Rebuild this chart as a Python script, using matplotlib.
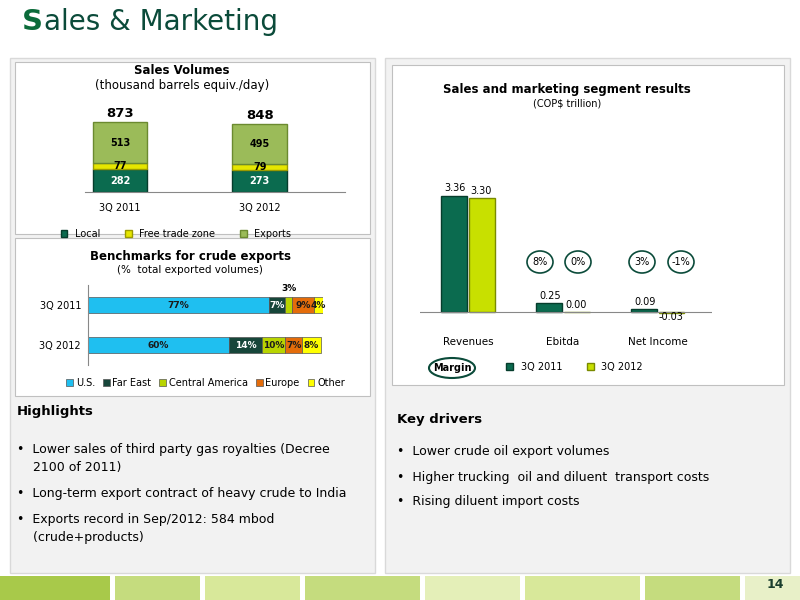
import matplotlib
matplotlib.use("Agg")
import matplotlib.pyplot as plt
from matplotlib.patches import Rectangle, Ellipse

# data
vol_periods = ["3Q 2011", "3Q 2012"]
vol_local = [282, 273]
vol_ftz = [77, 79]
vol_exports = [513, 495]
vol_totals = [873, 848]

bench_periods = ["3Q 2012", "3Q 2011"]
bench_names = ["U.S.", "Far East", "Central America", "Europe", "Other"]
bench_vals = {
    "U.S.": [60, 77],
    "Far East": [14, 7],
    "Central America": [10, 3],
    "Europe": [7, 9],
    "Other": [8, 4],
}
bench_colors = ["#1fbff0", "#17463a", "#b8d400", "#e46c0a", "#ffff00"]

seg_cats = ["Revenues", "Ebitda", "Net Income"]
seg_2011 = [3.36, 0.25, 0.09]
seg_2012 = [3.30, 0.00, -0.03]
margins_2011 = ["8%", "3%"]
margins_2012 = ["0%", "-1%"]

W, H = 800, 600
fig = plt.figure(figsize=(8, 6), dpi=100)
fig.patch.set_facecolor("white")

def fx(px): return px / W
def fy(py): return 1 - py / H

bg = fig.add_axes([0, 0, 1, 1], zorder=-5)
bg.set_xlim(0, W); bg.set_ylim(H, 0); bg.axis("off")
bg.add_patch(Rectangle((10, 58), 365, 515, fc="#f2f2f2", ec="#d9d9d9", lw=1))
bg.add_patch(Rectangle((385, 58), 405, 515, fc="#f2f2f2", ec="#d9d9d9", lw=1))
bg.add_patch(Rectangle((15, 62), 355, 172, fc="white", ec="#c0c0c0", lw=0.8))
bg.add_patch(Rectangle((15, 238), 355, 158, fc="white", ec="#c0c0c0", lw=0.8))
bg.add_patch(Rectangle((392, 65), 392, 320, fc="white", ec="#c0c0c0", lw=0.8))
# bottom stripes
stripes = [(0, 110, "#a8c94a"), (115, 200, "#c5dc7e"), (205, 300, "#d8e89a"),
           (305, 420, "#c5dc7e"), (425, 520, "#e4efb8"), (525, 640, "#d8e89a"),
           (645, 740, "#c5dc7e")]
for a, b, c in stripes:
    bg.add_patch(Rectangle((a, 576), b - a, 24, fc=c, ec="none"))
bg.add_patch(Rectangle((745, 576), 55, 24, fc="#e8f0c8", ec="none"))
bg.text(775, 584, "14", ha="center", va="center", fontsize=9, fontweight="bold", color="#1a3e2e")

s_txt = fig.text(fx(22), fy(22), "S", fontsize=21, fontweight="bold", color="#0b6b3a", va="center")
fig.canvas.draw()
ext = s_txt.get_window_extent(fig.canvas.get_renderer())
fig.text(ext.x1 / W + 0.001, fy(22), "ales & Marketing", fontsize=20, color="#0b4b3a", va="center")

# Sales volumes
ax1 = fig.add_axes([fx(85), fy(192), fx(260), 80 / H])
x = [0, 1]
w = 0.39
ax1.bar(x, vol_local, w, color="#0b6b4f", ec="#063d2c")
ax1.bar(x, vol_ftz, w, bottom=vol_local, color="#e6e600", ec="#9a9a00")
b2 = [a + b for a, b in zip(vol_local, vol_ftz)]
ax1.bar(x, vol_exports, w, bottom=b2, color="#9bbb59", ec="#6b8a30")
for i in x:
    ax1.text(i, vol_local[i] / 2, str(vol_local[i]), ha="center", va="center", color="white", fontsize=7, fontweight="bold")
    ax1.text(i, vol_local[i] + vol_ftz[i] / 2, str(vol_ftz[i]), ha="center", va="center", fontsize=7, fontweight="bold")
    ax1.text(i, b2[i] + vol_exports[i] / 2, str(vol_exports[i]), ha="center", va="center", fontsize=7, fontweight="bold")
    ax1.text(i, vol_totals[i] + 30, str(vol_totals[i]), ha="center", va="bottom", fontsize=9.5, fontweight="bold")
ax1.set_xlim(-0.25, 1.61); ax1.set_ylim(0, 1000)
ax1.set_xticks(x); ax1.set_xticklabels(vol_periods, fontsize=7)
ax1.set_yticks([])
for s in ["left", "right", "top"]: ax1.spines[s].set_visible(False)
ax1.spines["bottom"].set_color("#888888")
ax1.tick_params(axis="x", length=0, pad=8)
ax1.patch.set_alpha(0)
fig.text(fx(182), fy(71), "Sales Volumes", ha="center", fontsize=8.5, fontweight="bold", va="center")
fig.text(fx(182), fy(86), "(thousand barrels equiv./day)", ha="center", fontsize=8.5, va="center")
ax1.legend(["Local", "Free trade zone", "Exports"], loc="upper center", bbox_to_anchor=(0.35, -0.35),
           ncol=3, fontsize=7, frameon=False, handlelength=0.7, handleheight=0.7, columnspacing=2.5)

# Benchmarks
ax2 = fig.add_axes([fx(88), fy(365), fx(235), 80 / H])
left = [0, 0]
for n, c in zip(bench_names, bench_colors):
    v = bench_vals[n]
    ax2.barh([0, 1], v, 0.4, left=left, color=c, ec="#555555", lw=0.5, label=n)
    for j in range(2):
        tc = "white" if n == "Far East" else "#1a1a1a"
        if n == "Central America" and j == 1:
            ax2.text(left[j] + v[j] / 2, 1.42, f"{v[j]}%", ha="center", va="center", fontsize=6.5, fontweight="bold")
        else:
            ax2.text(left[j] + v[j] / 2, j, f"{v[j]}%", ha="center", va="center", fontsize=6.5, fontweight="bold", color=tc)
    left = [a + b for a, b in zip(left, v)]
ax2.set_xlim(0, 100); ax2.set_ylim(-0.5, 1.5)
ax2.set_yticks([0, 1]); ax2.set_yticklabels(bench_periods, fontsize=7)
ax2.set_xticks([])
for s in ["right", "top", "bottom"]: ax2.spines[s].set_visible(False)
ax2.spines["left"].set_color("#888888")
ax2.tick_params(axis="y", length=0, pad=5)
ax2.patch.set_alpha(0)
fig.text(fx(190), fy(256), "Benchmarks for crude exports", ha="center", fontsize=8.5, fontweight="bold", va="center")
fig.text(fx(190), fy(270), "(%  total exported volumes)", ha="center", fontsize=7.5, va="center")
ax2.legend(loc="upper center", bbox_to_anchor=(0.5, -0.05), ncol=5, fontsize=7, frameon=False,
           handlelength=0.7, handleheight=0.7, columnspacing=0.8, handletextpad=0.3)

# Segment results
ax3 = fig.add_axes([fx(420), fy(320), fx(292), 150 / H])
bw = 0.27
xs = range(3)
ax3.bar([i - bw / 2 - 0.01 for i in xs], seg_2011, bw, color="#0b6b4f", ec="#063d2c", label="3Q 2011")
ax3.bar([i + bw / 2 + 0.01 for i in xs], seg_2012, bw, color="#c8e000", ec="#7a8a00", label="3Q 2012")
for i in xs:
    ax3.text(i - bw / 2, max(seg_2011[i], 0) + 0.12, f"{seg_2011[i]:.2f}", ha="center", fontsize=7)
    if seg_2012[i] < 0:
        ax3.text(i + bw / 2, seg_2012[i] - 0.2, f"{seg_2012[i]:.2f}", ha="center", fontsize=7)
    else:
        ax3.text(i + bw / 2, seg_2012[i] + 0.12, f"{seg_2012[i]:.2f}", ha="center", fontsize=7)
ax3.set_xlim(-0.505, 2.57); ax3.set_ylim(-0.23, 4.1)
ax3.set_xticks(list(xs)); ax3.set_xticklabels(seg_cats, fontsize=7.5)
ax3.set_yticks([])
ax3.axhline(0, color="#888888", lw=0.8)
for s in ["left", "right", "top", "bottom"]: ax3.spines[s].set_visible(False)
ax3.tick_params(axis="x", length=0, pad=12)
ax3.patch.set_alpha(0)
fig.text(fx(567), fy(89), "Sales and marketing segment results", ha="center", fontsize=8.5, fontweight="bold", va="center")
fig.text(fx(567), fy(103), "(COP$ trillion)", ha="center", fontsize=7, va="center")
ax3.legend(loc="upper center", bbox_to_anchor=(0.53, -0.22), ncol=2, fontsize=7, frameon=False,
           handlelength=0.7, handleheight=0.7, columnspacing=2.5)

for (px, txt) in [(540, margins_2011[0]), (578, margins_2012[0]), (642, margins_2011[1]), (681, margins_2012[1])]:
    bg.add_patch(Ellipse((px, 262), 26, 22, fc="white", ec="#0b4b3a", lw=1.2))
    bg.text(px, 262, txt, ha="center", va="center", fontsize=7)
bg.add_patch(Ellipse((452, 368), 46, 20, fc="white", ec="#0b4b3a", lw=1.5))
bg.text(452, 368, "Margin", ha="center", va="center", fontsize=7, fontweight="bold")

# Text
fig.text(fx(17), fy(412), "Highlights", fontsize=9.5, fontweight="bold", va="center")
hl = [(449, "•  Lower sales of third party gas royalties (Decree"),
      (467, "    2100 of 2011)"),
      (493, "•  Long-term export contract of heavy crude to India"),
      (519, "•  Exports record in Sep/2012: 584 mbod"),
      (537, "    (crude+products)")]
for py, t in hl:
    fig.text(fx(17), fy(py), t, fontsize=9, va="center")
fig.text(fx(397), fy(419), "Key drivers", fontsize=9.5, fontweight="bold", va="center")
for py, t in [(452, "•  Lower crude oil export volumes"),
              (477, "•  Higher trucking  oil and diluent  transport costs"),
              (502, "•  Rising diluent import costs")]:
    fig.text(fx(397), fy(py), t, fontsize=9, va="center")

fig.savefig("out.png", dpi=100)
